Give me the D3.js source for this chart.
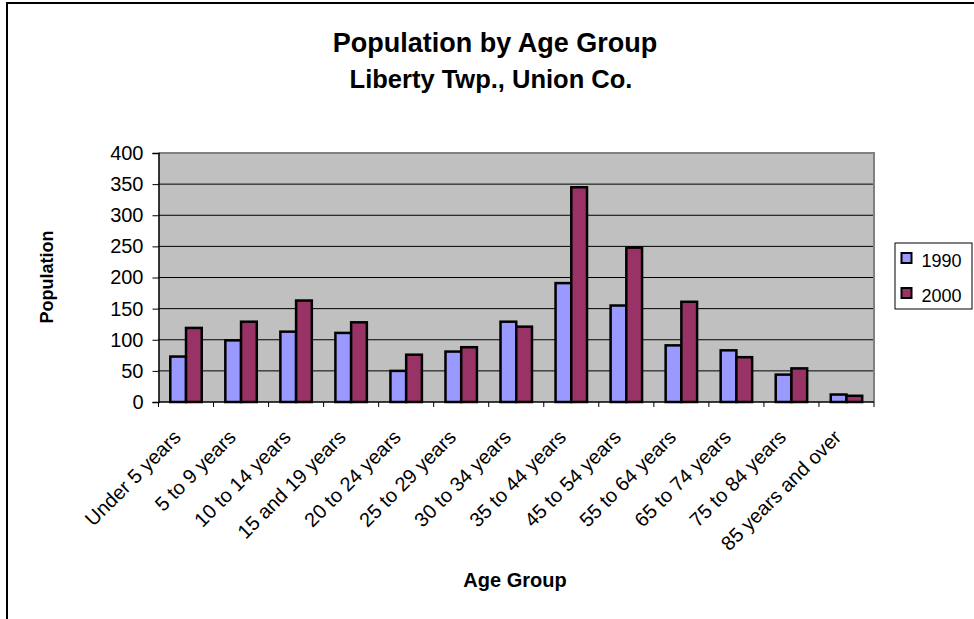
<!DOCTYPE html>
<html>
<head>
<meta charset="utf-8">
<script src="https://cdn.jsdelivr.net/npm/d3@7"></script>
<style>
  body { margin: 0; background: #fff; }
  svg { display: block; font-family: Arial, "Liberation Sans", sans-serif; }
</style>
</head>
<body>
<div id="chart"></div>
<script>
// Data
const ageGroups = ["Under 5 years", "5 to 9 years", "10 to 14 years", "15 and 19 years",
  "20 to 24 years", "25 to 29 years", "30 to 34 years", "35 to 44 years", "45 to 54 years",
  "55 to 64 years", "65 to 74 years", "75 to 84 years", "85 years and over"];
const seriesNames = ["1990", "2000"];
const pop1990 = [73, 99, 113, 111, 50, 81, 129, 191, 155, 91, 83, 44, 12];
const pop2000 = [119, 129, 163, 128, 76, 88, 121, 345, 248, 161, 72, 54, 10];
const yTicks = [0, 50, 100, 150, 200, 250, 300, 350, 400];
const colors = ["#9999FF", "#993366"];

const width = 974, height = 619;
const plot = { left: 158.5, top: 153, right: 874, bottom: 402 };

const svg = d3.select("#chart").append("svg")
  .attr("width", width)
  .attr("height", height);

// outer chart frame
svg.append("rect")
  .attr("x", 7).attr("y", 3)
  .attr("width", width + 10).attr("height", height + 10)
  .attr("fill", "#fff").attr("stroke", "#000").attr("stroke-width", 2);

const x0 = d3.scaleBand()
  .domain(ageGroups)
  .range([plot.left, plot.right])
  .paddingInner(0).paddingOuter(0);

const x1 = d3.scaleBand()
  .domain(seriesNames)
  .range([0, x0.bandwidth()])
  .paddingOuter(0.75).paddingInner(0);

const y = d3.scaleLinear()
  .domain([0, 400])
  .range([plot.bottom, plot.top]);

// plot area background
svg.append("rect")
  .attr("x", plot.left).attr("y", plot.top)
  .attr("width", plot.right - plot.left).attr("height", plot.bottom - plot.top)
  .attr("fill", "#C0C0C0");

// gridlines
svg.append("g")
  .selectAll("line")
  .data(yTicks.slice(1, -1))
  .join("line")
    .attr("x1", plot.left).attr("x2", plot.right)
    .attr("y1", d => y(d)).attr("y2", d => y(d))
    .attr("stroke", "#000").attr("stroke-width", 1);

// top and right border of plot area
svg.append("path")
  .attr("d", `M${plot.left},${plot.top}H${plot.right}V${plot.bottom}`)
  .attr("fill", "none").attr("stroke", "#808080").attr("stroke-width", 2);

// bars
const rows = ageGroups.map((g, i) => ({ group: g, values: [pop1990[i], pop2000[i]] }));
svg.append("g")
  .selectAll("g")
  .data(rows)
  .join("g")
    .attr("transform", d => `translate(${x0(d.group)},0)`)
  .selectAll("rect")
  .data(d => d.values.map((v, j) => ({ key: seriesNames[j], value: v, j })))
  .join("rect")
    .attr("x", d => x1(d.key))
    .attr("y", d => y(d.value))
    .attr("width", x1.bandwidth())
    .attr("height", d => y(0) - y(d.value))
    .attr("fill", d => colors[d.j])
    .attr("stroke", "#000").attr("stroke-width", 2.5);

// y axis
const yAxis = svg.append("g")
  .attr("transform", `translate(${plot.left},0)`)
  .call(d3.axisLeft(y).tickValues(yTicks).tickSize(6).tickPadding(9));
yAxis.select(".domain").attr("stroke", "#000").attr("stroke-width", 1.5);
yAxis.selectAll("text").attr("font-size", 20).attr("fill", "#000")
  .attr("font-family", "Arial, 'Liberation Sans', sans-serif");

// x axis baseline and ticks between categories
const xAxis = svg.append("g");
xAxis.append("line")
  .attr("x1", plot.left).attr("x2", plot.right)
  .attr("y1", plot.bottom).attr("y2", plot.bottom)
  .attr("stroke", "#000").attr("stroke-width", 1.5);
xAxis.selectAll("line.tick")
  .data(ageGroups.concat(["end"]))
  .join("line")
    .attr("class", "tick")
    .attr("x1", (d, i) => plot.left + i * x0.bandwidth())
    .attr("x2", (d, i) => plot.left + i * x0.bandwidth())
    .attr("y1", plot.bottom).attr("y2", plot.bottom + 5)
    .attr("stroke", "#000");

xAxis.selectAll("text")
  .data(ageGroups)
  .join("text")
    .attr("transform", d => `translate(${x0(d) + x0.bandwidth() / 2 - 4},${plot.bottom + 36.5}) rotate(-45)`)
    .attr("text-anchor", "end")
    .attr("font-size", 20)
    .attr("fill", "#000")
    .text(d => d);

// titles
svg.append("text")
  .attr("x", 495).attr("y", 52)
  .attr("text-anchor", "middle")
  .attr("font-size", 27).attr("font-weight", "bold")
  .text("Population by Age Group");
svg.append("text")
  .attr("x", 491).attr("y", 88)
  .attr("text-anchor", "middle")
  .attr("font-size", 25.5).attr("font-weight", "bold")
  .text("Liberty Twp., Union Co.");

svg.append("text")
  .attr("transform", "translate(52.5,277) rotate(-90)")
  .attr("text-anchor", "middle")
  .attr("font-size", 18).attr("font-weight", "bold")
  .text("Population");

svg.append("text")
  .attr("x", 515).attr("y", 587)
  .attr("text-anchor", "middle")
  .attr("font-size", 20).attr("font-weight", "bold")
  .text("Age Group");

// legend
const legend = svg.append("g").attr("transform", "translate(895,243)");
legend.append("rect")
  .attr("width", 77).attr("height", 66)
  .attr("fill", "#fff").attr("stroke", "#000").attr("stroke-width", 1);
const item = legend.selectAll("g")
  .data(seriesNames)
  .join("g")
    .attr("transform", (d, i) => `translate(6.5,${15 + i * 35})`);
item.append("rect")
  .attr("x", 0).attr("y", -5).attr("width", 10).attr("height", 10)
  .attr("fill", (d, i) => colors[i]).attr("stroke", "#000").attr("stroke-width", 2);
item.append("text")
  .attr("x", 20).attr("y", 8.5)
  .attr("font-size", 18)
  .text(d => d);
</script>
</body>
</html>
